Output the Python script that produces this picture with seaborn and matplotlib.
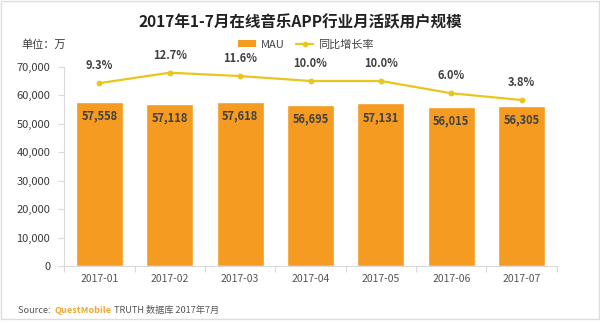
import matplotlib
matplotlib.use("Agg")
import matplotlib.pyplot as plt
import seaborn as sns
import pandas as pd
import numpy as np
from matplotlib.patches import Patch, Rectangle
from matplotlib.lines import Line2D

months = ["2017-01", "2017-02", "2017-03", "2017-04", "2017-05", "2017-06", "2017-07"]
mau = [57558, 57118, 57618, 56695, 57131, 56015, 56305]
growth = [9.3, 12.7, 11.6, 10.0, 10.0, 6.0, 3.8]
yticks = [0, 10000, 20000, 30000, 40000, 50000, 60000, 70000]

BAR = "#F59B21"
LINE = "#E9C51F"
TXT = "#3A3A3A"
GRID = "#D9D9D9"

sns.set_theme(style="white")
plt.rcParams['font.family'] = ['Noto Sans CJK SC', 'DejaVu Sans']

df = pd.DataFrame({"month": months, "MAU": mau, "growth": growth})

fig = plt.figure(figsize=(6, 3.23), dpi=100)
ax = fig.add_axes([0.107, 0.176, 0.821, 0.617])

sns.barplot(data=df, x="month", y="MAU", color=BAR, width=0.67,
            saturation=1, ax=ax)
ax.set_ylim(0, 70000)
ax.set_xlim(-0.5, len(months) - 0.5)
ax.set_yticks(yticks)
ax.set_yticklabels([f"{v:,}" for v in yticks], fontsize=8, color=TXT)
ax.set_xticks(range(len(months)))
ax.set_xticklabels(months, fontsize=7.5, color="#555555")
ax.set_xlabel("")
ax.set_ylabel("")
ax.tick_params(axis="x", length=0, pad=6)
ax.tick_params(axis="y", length=4, color=GRID, width=0.8, pad=6, left=True)
ax.set_xticks(np.arange(-0.5, len(months)), minor=True)
ax.tick_params(axis="x", which="minor", length=4, color=GRID, width=0.8, bottom=True)
for s in ["top", "right"]:
    ax.spines[s].set_visible(False)
for s in ["left", "bottom"]:
    ax.spines[s].set_color(GRID)
    ax.spines[s].set_linewidth(0.8)

for i, v in enumerate(mau):
    ax.annotate(f"{v:,}", (i, v), xytext=(0, -10), textcoords="offset points",
                ha="center", va="center", fontsize=8, color="#404040", fontweight="bold")

ax2 = ax.twinx()
sns.pointplot(x=months, y=growth, ax=ax2, color=LINE, markers="o",
              markersize=3, linewidth=1.6, errorbar=None)
ax2.set_ylim(-50.3, 14.6)
ax2.set_xlim(-0.5, len(months) - 0.5)
ax2.axis("off")
for i, g in enumerate(growth):
    ax2.annotate(f"{g:.1f}%", (i, g), xytext=(0, 8), textcoords="offset points",
                 ha="center", va="bottom", fontsize=8, color="#404040", fontweight="bold")

fig.text(0.5, 0.932, "2017年1-7月在线音乐APP行业月活跃用户规模", ha="center",
         va="center", fontsize=11.2, fontweight="bold", color="#222222")
fig.text(0.035, 0.862, "单位：万", ha="left", va="center", fontsize=8, color=TXT)

handles = [Patch(facecolor=BAR, edgecolor="none"),
           Line2D([0], [0], color=LINE, lw=1.6, marker="o", markersize=3)]
fig.legend(handles, ["MAU", "同比增长率"], loc="center", bbox_to_anchor=(0.51, 0.862),
           ncol=2, frameon=False, fontsize=8, handlelength=1.6, handleheight=0.6,
           columnspacing=1.0, handletextpad=0.4, labelcolor="#444444")

sy = 0.04
t = fig.text(0.03, sy, "Source:  ", ha="left", va="center", fontsize=6.6, color="#555555")
fig.canvas.draw()
r = fig.canvas.get_renderer()
bb = t.get_window_extent(r)
x = bb.x1 / fig.bbox.width
t2 = fig.text(x, sy, "QuestMobile", ha="left", va="center", fontsize=6.6,
              color="#F0A830", fontweight="bold")
bb2 = t2.get_window_extent(r)
x2 = bb2.x1 / fig.bbox.width
fig.text(x2 + 0.004, sy, "TRUTH 数据库 2017年7月", ha="left", va="center", fontsize=6.6,
         color="#555555")

fig.patches.append(Rectangle((0.002, 0.012), 0.996, 0.984, transform=fig.transFigure,
                             fill=False, edgecolor="#DDDDDD", linewidth=1))

fig.savefig("out.png", dpi=100)
